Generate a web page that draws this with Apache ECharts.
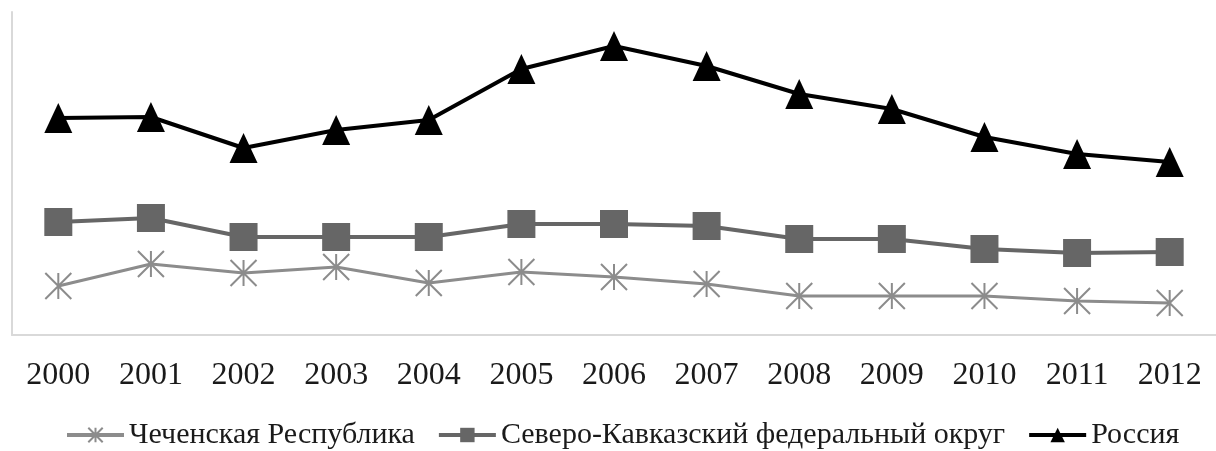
<!DOCTYPE html>
<html>
<head>
<meta charset="utf-8">
<script src="https://cdn.jsdelivr.net/npm/echarts@6/dist/echarts.min.js"></script>
<style>
html,body{margin:0;padding:0;background:#fff;}
#c{width:1216px;height:451px;}
</style>
</head>
<body>
<div id="c"></div>
<script>
const categories = ['2000','2001','2002','2003','2004','2005','2006','2007','2008','2009','2010','2011','2012'];
const seriesNames = ['Чеченская Республика', 'Северо-Кавказский федеральный округ', 'Россия'];
const chechnya = [4.9, 7.1, 6.2, 6.8, 5.2, 6.3, 5.8, 5.1, 3.9, 3.9, 3.9, 3.4, 3.2];
const nkfo = [11.3, 11.7, 9.8, 9.8, 9.8, 11.1, 11.1, 10.9, 9.6, 9.6, 8.6, 8.2, 8.3];
const russia = [21.7, 21.8, 18.7, 20.5, 21.5, 26.6, 28.9, 26.9, 24.1, 22.6, 19.8, 18.1, 17.3];

const starPath = 'path://M0,0L20,20M20,0L0,20M10,0L10,20';
const chart = echarts.init(document.getElementById('c'));
const serif = '"Liberation Serif", "DejaVu Serif", serif';
chart.setOption({
  animation: false,
  backgroundColor: '#fff',
  grid: {left: 12, right: 0, top: 12, bottom: 116, containLabel: false},
  legend: {
    left: 60, top: 415,
    itemWidth: 57, itemHeight: 18, itemGap: 22,
    lineStyle: {width: 4},
    textStyle: {fontFamily: serif, fontSize: 30, color: '#1a1a1a'},
    data: seriesNames
  },
  xAxis: {
    type: 'category', data: categories, boundaryGap: true,
    axisLine: {show: true, lineStyle: {color: '#d9d9d9', width: 2}},
    axisTick: {show: false},
    axisLabel: {fontFamily: serif, fontSize: 32, color: '#1a1a1a', margin: 25}
  },
  yAxis: {
    type: 'value', min: 0, max: 32.3,
    axisLine: {show: true, lineStyle: {color: '#d9d9d9', width: 2}},
    axisTick: {show: false}, axisLabel: {show: false}, splitLine: {show: false}
  },
  series: [
    {
      name: seriesNames[0], type: 'line', data: chechnya,
      symbol: starPath, symbolSize: 26, showAllSymbol: true,
      lineStyle: {color: '#8c8c8c', width: 3},
      itemStyle: {color: '#8c8c8c', borderColor: '#8c8c8c', borderWidth: 2}
    },
    {
      name: seriesNames[1], type: 'line', data: nkfo,
      symbol: 'rect', symbolSize: 28, showAllSymbol: true,
      lineStyle: {color: '#666666', width: 4},
      itemStyle: {color: '#666666'}
    },
    {
      name: seriesNames[2], type: 'line', data: russia,
      symbol: 'triangle', symbolSize: [28, 30], showAllSymbol: true,
      lineStyle: {color: '#000000', width: 4},
      itemStyle: {color: '#000000'}
    }
  ]
});
</script>
</body>
</html>
